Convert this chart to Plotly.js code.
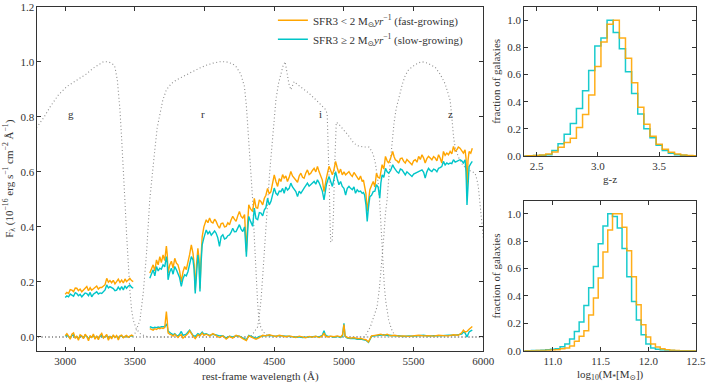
<!DOCTYPE html>
<html>
<head>
<meta charset="utf-8">
<script src="https://cdn.plot.ly/plotly-3.0.1.min.js"></script>
<style>
  html, body { margin: 0; padding: 0; background: #fff; }
  #graph { width: 707px; height: 385px; }
</style>
</head>
<body>
<div id="graph"></div>
<script>
// stacked spectra, rows = [wavelength (A), fast-growing, slow-growing]
const specBlue = [
  [3000,.155,.143],[3012,.162,.149],[3024,.158,.146],[3036,.172,.156],[3048,.170,.152],[3060,.165,.148],
  [3072,.178,.161],[3083,.177,.158],[3095,.168,.150],[3107,.174,.155],[3119,.164,.146],[3131,.171,.152],
  [3143,.176,.160],[3155,.183,.158],[3167,.168,.150],[3179,.179,.162],[3190,.170,.146],[3202,.176,.155],
  [3214,.181,.160],[3226,.185,.164],[3238,.174,.156],[3250,.180,.160],[3262,.180,.158],[3274,.186,.166],
  [3286,.190,.171],[3298,.213,.189],[3310,.199,.178],[3321,.205,.183],[3333,.197,.180],[3345,.206,.176],
  [3357,.193,.168],[3369,.201,.170],[3381,.210,.181],[3393,.198,.172],[3405,.207,.183],[3417,.196,.171],
  [3429,.211,.186],[3440,.201,.177],[3452,.208,.184],[3464,.213,.189],[3476,.205,.181],[3488,.201,.177]
];
const specRed = [
  [3607,.232,.213],[3619,.250,.228],[3631,.262,.244],[3643,.240,.222],[3655,.280,.256],[3667,.262,.240],
  [3679,.292,.250],[3690,.270,.246],[3702,.298,.262],[3714,.278,.255],[3726,.330,.292],[3732,.300,.270],
  [3738,.232,.208],[3750,.262,.236],[3762,.275,.250],[3774,.250,.228],[3786,.286,.256],[3798,.268,.244],
  [3809,.262,.226],[3821,.240,.215],[3833,.200,.184],[3845,.236,.212],[3857,.256,.226],[3869,.245,.222],
  [3881,.268,.238],[3893,.300,.268],[3905,.335,.292],[3917,.304,.280],[3925,.265,.245],[3933,.170,.158],
  [3942,.260,.240],[3952,.322,.298],[3960,.285,.265],[3967,.176,.165],[3975,.290,.270],[3983,.365,.335],
  [3995,.400,.360],[4012,.426,.389],[4024,.415,.375],[4036,.432,.383],[4048,.418,.370],[4060,.414,.377],
  [4072,.428,.385],[4083,.420,.377],[4095,.405,.360],[4107,.395,.329],[4119,.412,.365],[4131,.414,.371],
  [4143,.400,.356],[4155,.402,.359],[4167,.415,.368],[4179,.408,.371],[4190,.425,.380],[4202,.438,.395],
  [4214,.428,.382],[4226,.420,.383],[4238,.440,.395],[4250,.456,.408],[4262,.438,.392],[4274,.432,.383],
  [4287,.445,.400],[4300,.310,.292],[4310,.420,.390],[4317,.480,.438],[4330,.465,.420],[4345,.456,.402],
  [4357,.504,.468],[4369,.470,.430],[4381,.468,.426],[4393,.498,.452],[4405,.492,.450],[4417,.480,.440],
  [4429,.504,.462],[4440,.515,.470],[4452,.540,.504],[4464,.520,.480],[4476,.528,.492],[4488,.560,.515],
  [4500,.589,.541],[4512,.565,.522],[4524,.547,.516],[4536,.575,.530],[4548,.565,.528],[4560,.590,.540],
  [4571,.577,.522],[4583,.585,.545],[4595,.565,.534],[4607,.580,.540],[4619,.601,.559],[4631,.585,.545],
  [4643,.577,.538],[4655,.570,.528],[4667,.562,.510],[4679,.585,.530],[4691,.595,.522],[4703,.580,.535],
  [4714,.577,.541],[4726,.595,.550],[4738,.607,.559],[4750,.590,.548],[4762,.595,.553],[4774,.605,.560],
  [4786,.613,.565],[4798,.600,.555],[4810,.620,.571],[4822,.600,.560],[4833,.583,.547],[4845,.570,.530],
  [4857,.528,.498],[4866,.560,.530],[4874,.577,.553],[4884,.600,.570],[4893,.620,.583],[4905,.605,.565],
  [4917,.589,.547],[4929,.610,.575],[4940,.638,.601],[4952,.615,.575],[4964,.595,.553],[4976,.610,.565],
  [4988,.589,.547],[5000,.600,.540],[5012,.589,.516],[5024,.595,.540],[5036,.601,.547],[5048,.590,.540],
  [5060,.583,.535],[5072,.598,.545],[5083,.589,.522],[5095,.580,.535],[5107,.571,.528],[5119,.585,.530],
  [5131,.565,.522],[5140,.570,.525],[5148,.553,.516],[5158,.520,.480],[5167,.456,.420],[5176,.500,.470],
  [5186,.535,.510],[5198,.550,.515],[5210,.565,.528],[5222,.545,.530],[5233,.595,.553],[5245,.580,.545],
  [5257,.577,.504],[5265,.600,.560],[5274,.626,.589],[5286,.610,.580],[5298,.656,.613],[5310,.640,.600],
  [5321,.632,.595],[5335,.650,.605],[5350,.674,.626],[5360,.655,.615],[5369,.644,.607],[5381,.640,.600],
  [5393,.632,.595],[5405,.648,.610],[5417,.650,.607],[5429,.638,.598],[5440,.632,.589],[5452,.645,.600],
  [5464,.638,.595],[5476,.630,.590],[5488,.626,.583],[5500,.640,.592],[5512,.644,.595],[5524,.635,.598],
  [5536,.656,.601],[5548,.645,.605],[5560,.662,.607],[5572,.650,.598],[5583,.632,.577],[5595,.648,.600],
  [5607,.656,.613],[5619,.650,.605],[5631,.644,.601],[5643,.655,.610],[5655,.650,.607],[5667,.640,.600],
  [5679,.662,.613],[5690,.650,.615],[5702,.632,.619],[5714,.674,.638],[5726,.660,.625],[5738,.668,.632],
  [5750,.662,.628],[5762,.674,.632],[5774,.665,.630],[5786,.692,.644],[5798,.675,.635],[5810,.680,.638],
  [5821,.690,.640],[5833,.686,.644],[5845,.678,.640],[5857,.668,.632],[5869,.680,.644],[5876,.650,.600],
  [5883,.530,.480],[5890,.640,.580],[5898,.674,.619],[5910,.668,.630],[5921,.686,.638]
];

// residuals (same layout)
const resBlue = [
  [3000,.005,.003],[3012,.012,.006],[3024,.003,.001],[3036,-.008,-.004],[3048,.010,.005],[3060,.015,.008],
  [3072,-.005,-.002],[3083,.002,.001],[3095,-.012,-.006],[3107,.008,.004],[3119,.004,.002],[3131,-.006,-.003],
  [3143,.010,.006],[3155,.002,.002],[3167,-.014,-.007],[3179,.005,.003],[3190,-.003,-.001],[3202,.011,.006],
  [3214,-.008,-.004],[3226,.004,.002],[3238,-.010,-.005],[3250,.006,.003],[3262,.013,.007],[3274,-.004,-.002],
  [3286,.002,.001],[3298,.009,.005],[3310,-.012,-.006],[3321,.003,.002],[3333,-.007,-.003],[3345,.008,.004],
  [3357,-.002,-.001],[3369,.005,.003],[3381,-.011,-.005],[3393,.004,.002],[3405,.007,.004],[3417,-.003,-.001],
  [3429,.002,.001],[3440,.006,.003],[3452,-.001,.000],[3464,.004,.002],[3476,.007,.004],[3488,.003,.002]
];
const resRed = [
  [3607,.030,.037],[3619,.028,.035],[3631,.025,.033],[3643,.030,.035],[3655,.027,.034],[3667,.032,.036],
  [3679,.030,.035],[3690,.033,.037],[3702,.031,.036],[3714,.034,.037],[3726,.092,.045],[3732,.060,.040],
  [3738,.015,.022],[3750,.010,.015],[3762,.008,.012],[3774,.003,.008],[3786,.010,.012],[3798,.004,.006],
  [3809,-.002,.004],[3821,.005,.010],[3833,.008,.020],[3845,-.004,.006],[3857,.002,.008],[3869,.006,.010],
  [3881,.012,.018],[3893,.022,.025],[3905,.010,.015],[3917,.003,.006],[3933,-.006,.002],[3952,.008,.012],
  [3967,.004,.008],[3983,.014,.018],[3995,.006,.010],[4012,.010,.012],[4036,.004,.006],[4060,.012,.010],
  [4083,.005,.007],[4107,-.002,.004],[4131,.004,.005],[4155,-.008,-.004],[4179,.002,.003],[4202,-.004,.000],
  [4226,.006,.004],[4250,.002,.003],[4274,-.006,-.003],[4300,-.013,-.010],[4317,.004,.006],[4345,-.002,.000],
  [4369,-.008,-.005],[4393,-.002,.002],[4417,.006,.004],[4440,.004,.006],[4464,.008,.006],[4488,.005,.004],
  [4512,.002,.003],[4536,.006,.005],[4560,.003,.004],[4583,.001,.002],[4607,.004,.003],[4631,.000,.002],
  [4655,-.002,.000],[4679,.003,.001],[4703,.000,-.002],[4726,-.003,-.001],[4750,.002,.000],[4774,-.001,.001],
  [4798,.003,.002],[4822,-.002,.000],[4845,.004,.006],[4857,.014,.023],[4866,.004,.008],[4884,.000,.002],
  [4905,.003,.002],[4929,.001,-.001],[4952,.004,.002],[4976,.000,-.002],[4990,.008,.004],[5000,.045,.050],
  [5008,.004,.002],[5024,-.002,-.004],[5048,-.004,-.006],[5072,-.002,-.005],[5095,-.006,-.008],[5119,-.005,-.008],
  [5140,-.008,-.010],[5158,-.010,-.012],[5176,-.018,-.020],[5186,-.006,-.008],[5198,.004,.002],[5222,.006,.004],
  [5245,.008,.006],[5265,.010,.006],[5286,.006,.008],[5310,.010,.005],[5335,.004,.006],[5360,.006,.004],
  [5393,.003,.005],[5429,.004,.002],[5464,.002,.004],[5500,.004,.003],[5536,.006,.004],[5572,.004,.006],
  [5607,.005,.003],[5643,.003,.005],[5679,.006,.004],[5714,.005,.006],[5750,.004,.006],[5786,.008,.006],
  [5821,.006,.008],[5845,.015,.010],[5857,.025,.018],[5869,.018,.015],[5883,.020,.000],[5898,.028,.018],
  [5910,.032,.022],[5921,.038,.025]
];

// filter transmission curves, rows = [wavelength, normalised throughput]
const filterG = [
  [2780,.75],[2800,.764],[2850,.80],[2893,.837],[2952,.88],[3012,.91],[3060,.925],[3107,.94],[3150,.955],
  [3202,.977],[3240,.99],[3274,1.0],[3300,1.0],[3321,.997],[3345,.99],[3357,.98],[3374,.934],[3393,.825],
  [3405,.72],[3417,.62],[3428,.50],[3440,.377],[3452,.26],[3464,.17],[3476,.10],[3488,.062],[3510,.03],
  [3536,.013],[3570,.004],[3607,0],[6050,0]
];
const filterR = [
  [2780,0],[3470,0],[3500,.013],[3536,.06],[3560,.16],[3583,.30],[3607,.50],[3625,.60],[3643,.68],[3660,.76],
  [3679,.813],[3700,.86],[3726,.898],[3760,.92],[3798,.934],[3850,.948],[3893,.958],[3930,.967],[3964,.977],
  [4010,.987],[4060,.995],[4110,1.0],[4155,1.0],[4200,.993],[4226,.982],[4260,.955],[4286,.91],[4300,.84],
  [4310,.74],[4321,.68],[4333,.59],[4345,.498],[4357,.36],[4369,.22],[4380,.13],[4388,.074],[4400,.04],
  [4417,.02],[4452,.005],[4480,0],[6050,0]
];
const filterI = [
  [2780,0],[4330,0],[4345,.01],[4365,.025],[4381,.037],[4393,.08],[4405,.135],[4417,.22],[4429,.316],
  [4440,.41],[4452,.498],[4466,.59],[4481,.68],[4495,.77],[4512,.862],[4530,.92],[4548,.958],[4563,.985],
  [4578,1.0],[4590,.96],[4605,.92],[4619,.898],[4631,.915],[4643,.928],[4660,.92],[4680,.912],[4702,.904],
  [4750,.885],[4798,.862],[4840,.84],[4869,.826],[4880,.81],[4888,.70],[4895,.55],[4900,.42],[4905,.347],
  [4915,.345],[4925,.45],[4932,.60],[4938,.72],[4945,.78],[4960,.775],[5000,.753],[5035,.73],[5071,.704],
  [5100,.695],[5140,.69],[5179,.69],[5200,.675],[5214,.656],[5226,.63],[5238,.595],[5248,.55],[5257,.486],
  [5265,.40],[5274,.304],[5282,.24],[5290,.183],[5300,.13],[5310,.09],[5321,.062],[5340,.03],[5357,.013],
  [5380,.004],[5400,0],[6050,0]
];
const filterZ = [
  [2780,0],[5150,0],[5190,.0375],[5220,.08],[5238,.11],[5255,.18],[5267,.245],[5286,.365],[5298,.45],
  [5310,.50],[5322,.58],[5333,.64],[5345,.72],[5360,.78],[5375,.83],[5393,.87],[5420,.92],[5440,.95],
  [5464,.971],[5500,.985],[5530,.995],[5560,1.0],[5600,.995],[5655,.98],[5690,.955],[5726,.92],[5745,.89],
  [5762,.86],[5770,.82],[5779,.765],[5788,.72],[5798,.69],[5820,.655],[5845,.63],[5870,.615],[5893,.607],
  [5920,.60],[5941,.595],[5955,.57],[5964,.547],[5976,.486],[5988,.425],[6000,.36],[6015,.28]
];
const filterNames = ['g', 'r', 'i', 'z'];
const filterLabelX = [3043, 3986, 4829, 5764];

// g-z colour histograms (bin centres, width 0.05)
const gzCentres = [2.40,2.45,2.50,2.55,2.60,2.65,2.70,2.75,2.80,2.85,2.90,2.95,3.00,3.05,3.10,3.15,
  3.20,3.25,3.30,3.35,3.40,3.45,3.50,3.55,3.60,3.65,3.70,3.75,3.80];
const gzFast = [0,.001,.003,.008,.015,.03,.065,.10,.13,.21,.305,.45,.66,.84,.97,1.0,
  .87,.72,.54,.36,.234,.145,.086,.05,.027,.015,.008,.004,.002];
const gzSlow = [0,.001,.003,.005,.01,.04,.09,.16,.24,.35,.48,.63,.81,.87,1.0,.91,
  .79,.62,.46,.31,.20,.135,.08,.04,.02,.01,.005,.002,.001];

// stellar mass histograms
const massCentres = [10.70,10.75,10.80,10.85,10.90,10.95,11.00,11.05,11.10,11.15,11.20,11.25,11.30,11.35,
  11.40,11.45,11.50,11.55,11.60,11.65,11.70,11.75,11.80,11.85,11.90,11.95,12.00,12.05,12.10,12.15,
  12.20,12.25,12.30,12.35,12.40,12.45,12.50];
const massFast = [0,0,0,.001,.002,.004,.006,.007,.015,.02,.035,.07,.105,.146,
  .26,.385,.53,.72,.88,1.0,1.0,.90,.73,.54,.335,.19,.10,.05,.027,.015,
  .007,.003,.001,0,0,0,0];
const massSlow = [0,0,.001,.002,.004,.007,.01,.015,.03,.05,.085,.14,.21,.33,
  .46,.615,.78,.91,1.0,.98,.895,.745,.54,.36,.225,.117,.05,.02,.01,.005,
  .002,.001,0,0,0,0,0];

const orange = '#FFA500';
const cyan = '#00C5C8';
const grey = '#8c8c8c';
const ink = '#333333';
const serif = 'Liberation Serif, DejaVu Serif, serif';

document.addEventListener('DOMContentLoaded', function () {

    // join blue and red arm with a gap so the line breaks
    function joined(a, b, col) {
        const x = [], y = [];
        a.forEach(r => { x.push(r[0]); y.push(r[col]); });
        x.push(3550); y.push(null);
        b.forEach(r => { x.push(r[0]); y.push(r[col]); });
        return { x: x, y: y };
    }

    // step outline from bin centres
    function steps(centres, vals) {
        const half = (centres[1] - centres[0]) / 2;
        const x = centres.map(c => c - half);
        const y = vals.slice();
        x.push(centres[centres.length - 1] + half);
        y.push(vals[vals.length - 1]);
        return { x: x, y: y };
    }

    const traces = [];

    [filterG, filterR, filterI, filterZ].forEach(f => {
        traces.push({
            x: f.map(r => r[0]), y: f.map(r => r[1]),
            type: 'scatter', mode: 'lines', showlegend: false, hoverinfo: 'skip',
            line: { color: grey, width: 1.1, dash: '1px,2.5px' }
        });
    });

    const fastSpec = joined(specBlue, specRed, 1);
    const slowSpec = joined(specBlue, specRed, 2);
    const fastRes = joined(resBlue, resRed, 1);
    const slowRes = joined(resBlue, resRed, 2);

    traces.push({ x: slowRes.x, y: slowRes.y, type: 'scatter', mode: 'lines', showlegend: false,
        line: { color: cyan, width: 1.4 } });
    traces.push({ x: fastRes.x, y: fastRes.y, type: 'scatter', mode: 'lines', showlegend: false,
        line: { color: orange, width: 1.4 } });
    traces.push({ x: fastSpec.x, y: fastSpec.y, type: 'scatter', mode: 'lines',
        name: 'SFR3 &lt; 2 M<sub>⊙</sub><i>yr</i><sup>−1</sup> (fast-growing)',
        line: { color: orange, width: 1.4 } });
    traces.push({ x: slowSpec.x, y: slowSpec.y, type: 'scatter', mode: 'lines',
        name: 'SFR3 ≥ 2 M<sub>⊙</sub><i>yr</i><sup>−1</sup> (slow-growing)',
        line: { color: cyan, width: 1.4 } });

    const gzS = steps(gzCentres, gzSlow), gzF = steps(gzCentres, gzFast);
    const mS = steps(massCentres, massSlow), mF = steps(massCentres, massFast);
    traces.push({ x: gzS.x, y: gzS.y, xaxis: 'x2', yaxis: 'y2', type: 'scatter', mode: 'lines',
        showlegend: false, line: { color: cyan, width: 1.5, shape: 'hv' }, opacity: 0.9 });
    traces.push({ x: gzF.x, y: gzF.y, xaxis: 'x2', yaxis: 'y2', type: 'scatter', mode: 'lines',
        showlegend: false, line: { color: orange, width: 1.5, shape: 'hv' }, opacity: 0.9 });
    traces.push({ x: mS.x, y: mS.y, xaxis: 'x3', yaxis: 'y3', type: 'scatter', mode: 'lines',
        showlegend: false, line: { color: cyan, width: 1.5, shape: 'hv' }, opacity: 0.9 });
    traces.push({ x: mF.x, y: mF.y, xaxis: 'x3', yaxis: 'y3', type: 'scatter', mode: 'lines',
        showlegend: false, line: { color: orange, width: 1.5, shape: 'hv' }, opacity: 0.9 });

    const axisBase = {
        showline: true, mirror: 'ticks', linecolor: ink, linewidth: 1,
        ticks: 'inside', ticklen: 4, tickcolor: ink, tickwidth: 1,
        showgrid: false, zeroline: false, fixedrange: true,
        tickfont: { family: serif, size: 11, color: ink }
    };
    const titleFont = { family: serif, size: 11, color: ink };

    const annotations = filterNames.map((n, i) => ({
        x: filterLabelX[i], y: 0.81, xref: 'x', yref: 'y', text: n, showarrow: false,
        font: { family: serif, size: 11, color: ink }
    }));

    const layout = {
        width: 707, height: 385,
        margin: { l: 0, r: 0, t: 0, b: 0 },
        paper_bgcolor: '#fff', plot_bgcolor: '#fff',
        font: { family: serif, size: 11, color: ink },
        showlegend: true,
        legend: { x: 0.386, y: 0.985, xanchor: 'left', yanchor: 'top', bgcolor: 'rgba(0,0,0,0)',
            borderwidth: 0, font: { family: serif, size: 11, color: ink }, tracegroupgap: 0 },
        xaxis: Object.assign({}, axisBase, {
            domain: [0.0528, 0.6836], range: [2800, 6000], anchor: 'y',
            dtick: 500, tick0: 3000, tickformat: 'd',
            title: { text: 'rest-frame wavelength (Å)', font: titleFont, standoff: 6 }
        }),
        yaxis: Object.assign({}, axisBase, {
            domain: [0.0890, 0.9826], range: [-0.05, 1.2], anchor: 'x',
            dtick: 0.2, tick0: 0, tickformat: '.1f',
            title: { text: 'F<sub>λ</sub> (10<sup>−16</sup> erg s<sup>−1</sup> cm<sup>−2</sup> Å<sup>−1</sup>)',
                font: titleFont, standoff: 4 }
        }),
        xaxis2: Object.assign({}, axisBase, {
            domain: [0.7416, 0.9844], range: [2.4, 3.8], anchor: 'y2',
            dtick: 0.5, tick0: 2.5, tickformat: '.1f',
            title: { text: 'g-z', font: titleFont, standoff: 4 }
        }),
        yaxis2: Object.assign({}, axisBase, {
            domain: [0.5948, 0.9826], range: [0, 1.1], anchor: 'x2',
            dtick: 0.2, tick0: 0, tickformat: '.1f',
            title: { text: 'fraction of galaxies', font: titleFont, standoff: 4 }
        }),
        xaxis3: Object.assign({}, axisBase, {
            domain: [0.7416, 0.9844], range: [10.7, 12.5], anchor: 'y3',
            dtick: 0.5, tick0: 11, tickformat: '.1f',
            title: { text: 'log<sub>10</sub>(M<sub>*</sub>[M<sub>⊙</sub>])', font: titleFont, standoff: 4 }
        }),
        yaxis3: Object.assign({}, axisBase, {
            domain: [0.0890, 0.4771], range: [0, 1.09], anchor: 'x3',
            dtick: 0.2, tick0: 0, tickformat: '.1f',
            title: { text: 'fraction of galaxies', font: titleFont, standoff: 4 }
        }),
        annotations: annotations
    };

    Plotly.newPlot('graph', traces, layout, { staticPlot: true, displayModeBar: false });
});
</script>
</body>
</html>
